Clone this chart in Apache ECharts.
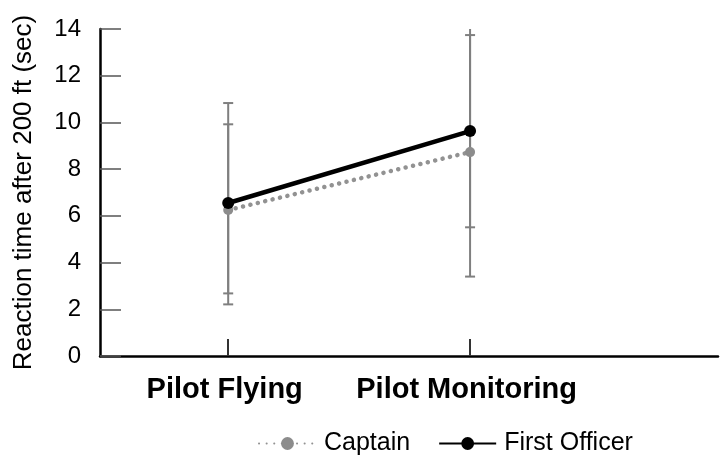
<!DOCTYPE html>
<html lang="en">
<head>
    <meta charset="UTF-8">
    <title>Reaction time after 200 ft</title>
    <style>
        html, body {
            margin: 0;
            padding: 0;
            background: #ffffff;
        }
        #chart {
            width: 720px;
            height: 457px;
        }
    </style>
    <script src="https://cdn.jsdelivr.net/npm/echarts@6/dist/echarts.min.js"></script>
</head>
<body>
    <div id="chart"></div>
    <script>
        // data
        const categories = ['Pilot Flying', 'Pilot Monitoring'];
        const captain = [6.25, 8.73];
        const firstOfficer = [6.55, 9.63];
        const captainLow = [2.68, 3.4];
        const captainHigh = [9.92, 14.06];
        const officerLow = [2.21, 5.51];
        const officerHigh = [10.83, 13.74];
        const yTicks = [0, 2, 4, 6, 8, 10, 12, 14];

        const yMax = 14;
        const font = "'Liberation Sans', Arial, sans-serif";

        function toPoints(values) {
            return values.map((v, i) => [i, v]);
        }

        function toBars(low, high) {
            return low.map((v, i) => [i, v, high[i]]);
        }

        // error bar with caps, cut at the top of the axis
        function renderErrorBar(params, api) {
            const x = api.value(0);
            const low = api.value(1);
            const high = api.value(2);
            const top = Math.min(high, yMax);
            const p1 = api.coord([x, low]);
            const p2 = api.coord([x, top]);
            const half = 5;
            const style = { stroke: '#7f7f7f', lineWidth: 2 };
            const children = [
                { type: 'line', shape: { x1: p1[0], y1: p1[1], x2: p2[0], y2: p2[1] }, style: style },
                { type: 'line', shape: { x1: p1[0] - half, y1: p1[1], x2: p1[0] + half, y2: p1[1] }, style: style }
            ];
            if (high <= yMax) {
                children.push({ type: 'line', shape: { x1: p2[0] - half, y1: p2[1], x2: p2[0] + half, y2: p2[1] }, style: style });
            }
            return { type: 'group', children: children };
        }

        const chart = echarts.init(document.getElementById('chart'));
        chart.setOption({
            animation: false,
            grid: {
                left: 100,
                right: 2,
                top: 29,
                bottom: 101,
                outerBoundsMode: 'none'
            },
            legend: {
                data: ['Captain', 'First Officer'],
                left: 253,
                top: 426,
                itemWidth: 57,
                itemHeight: 16,
                itemGap: 28,
                textStyle: {
                    fontFamily: font,
                    fontSize: 25,
                    color: '#000',
                    padding: [0, 0, 0, 3]
                }
            },
            xAxis: {
                type: 'value',
                min: -0.53,
                max: 2.025,
                splitLine: { show: false },
                axisLine: { onZero: false, lineStyle: { color: '#000', width: 2.5 } },
                axisTick: {
                    customValues: [0, 1],
                    inside: true,
                    length: 17,
                    lineStyle: { color: '#333', width: 2 }
                },
                axisLabel: {
                    customValues: [0, 1],
                    formatter: v => categories[Math.round(v)],
                    fontFamily: font,
                    fontSize: 29,
                    fontWeight: 'bold',
                    color: '#000',
                    margin: 19,
                    padding: [0, 7, 0, 0]
                }
            },
            yAxis: {
                type: 'value',
                min: 0,
                max: yMax,
                interval: 2,
                name: 'Reaction time after 200 ft (sec)',
                nameLocation: 'middle',
                nameGap: 63,
                nameTextStyle: {
                    fontFamily: font,
                    fontSize: 26,
                    color: '#000'
                },
                splitLine: { show: false },
                axisLine: { show: true, onZero: false, lineStyle: { color: '#000', width: 2.5 } },
                axisTick: {
                    show: true,
                    inside: true,
                    length: 21,
                    lineStyle: { color: '#555', width: 1.5 }
                },
                axisLabel: {
                    formatter: v => yTicks.includes(v) ? String(v) : '',
                    fontFamily: font,
                    fontSize: 24,
                    color: '#000',
                    margin: 19
                }
            },
            series: [
                {
                    type: 'custom',
                    name: 'Captain error',
                    renderItem: renderErrorBar,
                    data: toBars(captainLow, captainHigh),
                    z: 1
                },
                {
                    type: 'custom',
                    name: 'First Officer error',
                    renderItem: renderErrorBar,
                    data: toBars(officerLow, officerHigh),
                    z: 1
                },
                {
                    name: 'Captain',
                    type: 'line',
                    data: toPoints(captain),
                    symbol: 'circle',
                    symbolSize: 10,
                    itemStyle: { color: '#8c8c8c' },
                    lineStyle: { color: '#929292', width: 4.5, type: [0.1, 7.5], cap: 'round' },
                    z: 3
                },
                {
                    name: 'First Officer',
                    type: 'line',
                    data: toPoints(firstOfficer),
                    symbol: 'circle',
                    symbolSize: 12,
                    itemStyle: { color: '#000' },
                    lineStyle: { color: '#000', width: 4.5 },
                    z: 4
                }
            ]
        });
    </script>
</body>
</html>
